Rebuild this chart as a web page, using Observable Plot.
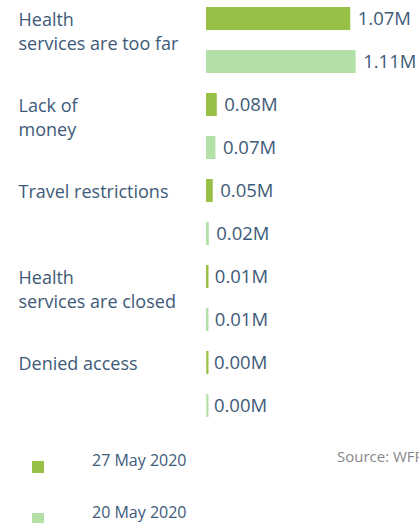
<!DOCTYPE html>
<html>
<head>
<meta charset="utf-8">
<script src="https://cdn.jsdelivr.net/npm/d3@7"></script>
<script src="https://cdn.jsdelivr.net/npm/@observablehq/plot@0.6"></script>
<style>
  html, body { margin: 0; padding: 0; background: #fff; }
  #wrap { position: relative; width: 419px; height: 523px; overflow: hidden; font-family: "Open Sans", sans-serif; }
  #chart { position: absolute; left: 0; top: 0; }
  .leg { position: absolute; font-size: 16px; color: #3d5a78; white-space: nowrap; line-height: 20px; }
  .sw { position: absolute; width: 12px; height: 12px; }
  .src { position: absolute; font-size: 15px; color: #888; white-space: nowrap; line-height: 20px; }
</style>
</head>
<body>
<div id="wrap">
  <div id="chart"></div>
</div>
<script>
const categories = [
  "Health\nservices are too far",
  "Lack of\nmoney",
  "Travel restrictions",
  "Health\nservices are closed",
  "Denied access"
];
const dates = ["27 May 2020", "20 May 2020"];
const values27May = [1.07, 0.08, 0.05, 0.01, 0.004];
const values20May = [1.11, 0.07, 0.02, 0.01, 0.003];
const colors = ["#98c046", "#b3e0a7"];
const sourceText = "Source: WFP";

const rows = [];
categories.forEach((c, i) => {
  rows.push({cat: c, date: dates[0], value: values27May[i], key: c + "|" + dates[0]});
  rows.push({cat: c, date: dates[1], value: values20May[i], key: c + "|" + dates[1]});
});
const firstRows = rows.filter(d => d.date === dates[0]);
const textColor = "#3d5a78";

const plot = Plot.plot({
  width: 419,
  height: 430,
  marginLeft: 206,
  marginRight: 0,
  marginTop: 0,
  marginBottom: 6,
  style: {fontFamily: "Open Sans, sans-serif", background: "transparent"},
  x: {domain: [0, 1.58], axis: null},
  y: {domain: rows.map(d => d.key), axis: null, paddingInner: 0.473, paddingOuter: 0.163},
  color: {domain: dates, range: colors},
  marks: [
    Plot.barX(rows, {x: "value", y: "key", fill: "date"}),
    Plot.tickX(rows, {x: 0, y: "key", stroke: "date", strokeWidth: 2, dx: 1}),
    Plot.text(rows, {
      x: "value", y: "key", text: d => d.value.toFixed(2) + "M",
      dx: 7, textAnchor: "start", fill: textColor, fontSize: 18.5
    }),
    Plot.text(firstRows, {
      y: "key", text: "cat", frameAnchor: "left", dx: -188, dy: -11,
      textAnchor: "start", lineAnchor: "top", lineHeight: 1.37,
      fill: textColor, fontSize: 18
    })
  ]
});
document.getElementById("chart").appendChild(plot);

const wrap = document.getElementById("wrap");
const legTops = [461, 513];
dates.forEach((d, i) => {
  const sw = document.createElement("div");
  sw.className = "sw";
  sw.style.left = "32px";
  sw.style.top = legTops[i] + "px";
  sw.style.background = colors[i];
  wrap.appendChild(sw);
  const t = document.createElement("div");
  t.className = "leg";
  t.style.left = "92px";
  t.style.top = (legTops[i] - 11) + "px";
  t.textContent = d;
  wrap.appendChild(t);
});
const s = document.createElement("div");
s.className = "src";
s.style.left = "337px";
s.style.top = "446px";
s.textContent = sourceText;
wrap.appendChild(s);
</script>
</body>
</html>
